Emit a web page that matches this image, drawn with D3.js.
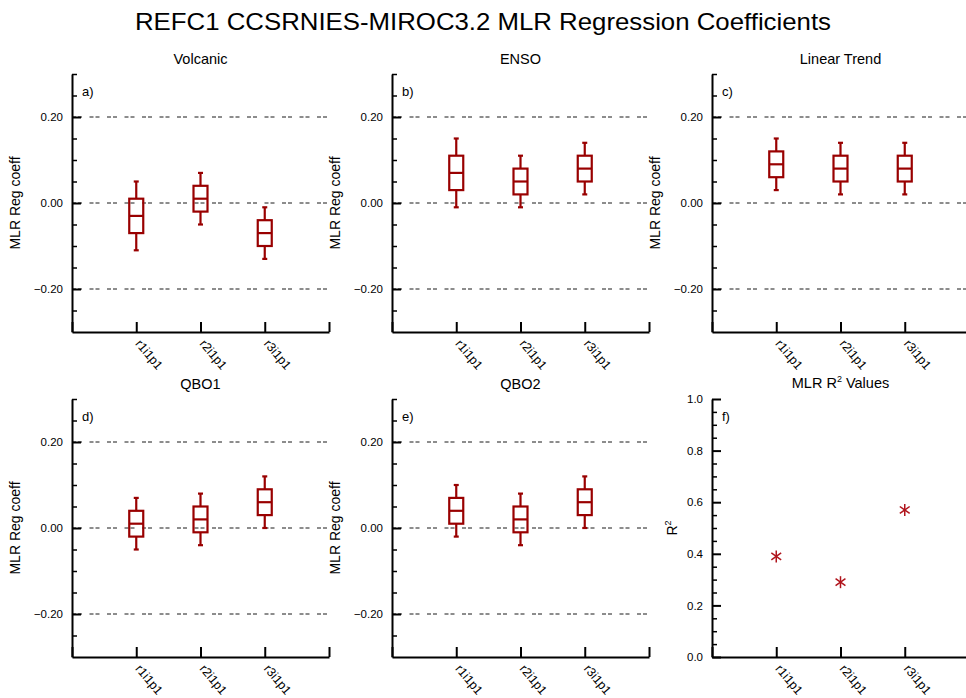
<!DOCTYPE html>
<html>
<head>
<meta charset="utf-8">
<script src="https://cdn.jsdelivr.net/npm/d3@7"></script>
<style>
  html, body { margin: 0; padding: 0; background: #fff; }
  svg { display: block; font-family: "Liberation Sans", Arial, Helvetica, sans-serif; }
</style>
</head>
<body>
<svg id="chart" width="966" height="698"></svg>
<script>
// Ensemble members on the x axis
const runs = ["r1i1p1", "r2i1p1", "r3i1p1"];

// Regression term of each box-plot panel
const panelTitles = ["Volcanic", "ENSO", "Linear Trend", "QBO1", "QBO2"];
const panelTags = ["a)", "b)", "c)", "d)", "e)", "f)"];

// Box statistics per run: [min, q1, median, q3, max]
const volcanic = [[-0.11, -0.07, -0.03, 0.01, 0.05], [-0.05, -0.02, 0.01, 0.04, 0.07], [-0.13, -0.10, -0.07, -0.04, -0.01]];
const enso     = [[-0.01, 0.03, 0.07, 0.11, 0.15], [-0.01, 0.02, 0.05, 0.08, 0.11], [0.02, 0.05, 0.08, 0.11, 0.14]];
const trend    = [[0.03, 0.06, 0.09, 0.12, 0.15], [0.02, 0.05, 0.08, 0.11, 0.14], [0.02, 0.05, 0.08, 0.11, 0.14]];
const qbo1     = [[-0.05, -0.02, 0.01, 0.04, 0.07], [-0.04, -0.01, 0.02, 0.05, 0.08], [0.00, 0.03, 0.06, 0.09, 0.12]];
const qbo2     = [[-0.02, 0.01, 0.04, 0.07, 0.10], [-0.04, -0.01, 0.02, 0.05, 0.08], [0.00, 0.03, 0.06, 0.09, 0.12]];

// Coefficient of determination per run
const rSquared = [0.39, 0.29, 0.57];

// Axis ticks
const coefMajor = [-0.2, 0.0, 0.2];
const coefMinor = [-0.25, -0.15, -0.1, -0.05, 0.05, 0.1, 0.15, 0.25, 0.3];
const r2Major = [0.0, 0.2, 0.4, 0.6, 0.8, 1.0];
const r2Minor = [0.05, 0.1, 0.15, 0.25, 0.3, 0.35, 0.45, 0.5, 0.55, 0.65, 0.7, 0.75, 0.85, 0.9, 0.95];
const refLines = [-0.2, 0.0, 0.2];

const boxData = [volcanic, enso, trend, qbo1, qbo2];

const BOX_COLOR = "#990000";
const MARK_COLOR = "#b0141c";
const W = 257, H = 258;
const lefts = [72, 392, 712];
const tops = [74, 399];

const svg = d3.select("#chart");

// Main title
const title = svg.append("text")
  .attr("x", 483).attr("y", 30)
  .attr("text-anchor", "middle")
  .attr("font-size", 24.5)
  .text("REFC1 CCSRNIES-MIROC3.2 MLR Regression Coefficients");
title.attr("textLength", 696).attr("lengthAdjust", "spacingAndGlyphs");

function drawAxes(g, x, y, major, minor, fmt) {
  // minor y ticks
  g.append("g")
    .call(d3.axisLeft(y).tickValues(minor).tickSize(-5).tickFormat(""))
    .call(s => s.select(".domain").remove())
    .call(s => s.selectAll("line").attr("stroke", "#000").attr("stroke-width", 1.5));
  // major y ticks with labels
  g.append("g")
    .call(d3.axisLeft(y).tickValues(major).tickSize(-9).tickSizeOuter(0).tickPadding(9).tickFormat(fmt))
    .call(s => s.select(".domain").attr("stroke", "#000").attr("stroke-width", 2))
    .call(s => s.selectAll("line").attr("stroke", "#000").attr("stroke-width", 2))
    .call(s => s.selectAll("text").attr("font-size", 11.5).attr("fill", "#000")
      .attr("font-family", "'Liberation Sans', Arial, sans-serif"));
  // x axis
  const xa = g.append("g")
    .attr("transform", `translate(0,${H})`)
    .call(d3.axisBottom(x).tickValues([0, 1, 2, 3, 4]).tickSize(-10).tickSizeOuter(0)
      .tickFormat(d => runs[d - 1] || ""))
    .call(s => s.select(".domain").attr("stroke", "#000").attr("stroke-width", 2))
    .call(s => s.selectAll("line").attr("stroke", "#000").attr("stroke-width", 2));
  xa.selectAll("text")
    .attr("font-size", 12.5).attr("fill", "#000")
    .attr("font-family", "'Liberation Sans', Arial, sans-serif")
    .attr("text-anchor", "start")
    .attr("y", 0).attr("dy", 0)
    .attr("transform", "translate(-2,12) rotate(50)");
}

function makePanel(row, col) {
  const g = svg.append("g").attr("transform", `translate(${lefts[col]},${tops[row]})`);
  const x = d3.scaleLinear().domain([0, 4]).range([0, W]);
  return { g, x };
}

// Box-plot panels
boxData.forEach((stats, i) => {
  const row = Math.floor(i / 3), col = i % 3;
  const { g, x } = makePanel(row, col);
  const y = d3.scaleLinear().domain([-0.3, 0.3]).range([H, 0]);

  // dashed reference lines
  g.selectAll("line.ref").data(refLines).join("line")
    .attr("class", "ref")
    .attr("x1", 0).attr("x2", W)
    .attr("y1", d => y(d)).attr("y2", d => y(d))
    .attr("stroke", "#1a1a1a").attr("stroke-width", 1)
    .attr("stroke-dasharray", "4,2,4,7.5");

  drawAxes(g, x, y, coefMajor, coefMinor, d3.format(".2f"));

  // y axis title
  g.append("text")
    .attr("transform", `translate(-52,${H / 2}) rotate(-90)`)
    .attr("text-anchor", "middle")
    .attr("font-size", 14)
    .text("MLR Reg coeff");

  // panel title and tag
  g.append("text").attr("x", W / 2).attr("y", -10).attr("text-anchor", "middle")
    .attr("font-size", 14.5).text(panelTitles[i]);
  g.append("text").attr("x", 10).attr("y", 22).attr("font-size", 13).text(panelTags[i]);

  const bw = 7, cw = 2.5;
  const boxes = g.selectAll("g.box").data(stats).join("g").attr("class", "box")
    .attr("fill", "none").attr("stroke", BOX_COLOR).attr("stroke-width", 2.2);
  boxes.each(function (s, k) {
    const b = d3.select(this);
    const cx = x(k + 1);
    const [mn, q1, md, q3, mx] = s;
    b.append("line").attr("x1", cx).attr("x2", cx).attr("y1", y(mx)).attr("y2", y(q3));
    b.append("line").attr("x1", cx).attr("x2", cx).attr("y1", y(q1)).attr("y2", y(mn));
    b.append("line").attr("x1", cx - cw).attr("x2", cx + cw).attr("y1", y(mx)).attr("y2", y(mx));
    b.append("line").attr("x1", cx - cw).attr("x2", cx + cw).attr("y1", y(mn)).attr("y2", y(mn));
    b.append("rect").attr("x", cx - bw).attr("width", 2 * bw)
      .attr("y", y(q3)).attr("height", y(q1) - y(q3));
    b.append("line").attr("x1", cx - bw).attr("x2", cx + bw).attr("y1", y(md)).attr("y2", y(md));
  });
});

// R-squared panel
{
  const { g, x } = makePanel(1, 2);
  const y = d3.scaleLinear().domain([0, 1]).range([H, 0]);
  drawAxes(g, x, y, r2Major, r2Minor, d3.format(".1f"));

  const yl = g.append("text")
    .attr("transform", `translate(-35,${H / 2}) rotate(-90)`)
    .attr("text-anchor", "middle")
    .attr("font-size", 14);
  yl.append("tspan").text("R");
  yl.append("tspan").attr("font-size", 9).attr("dy", -6).text("2");

  const t = g.append("text").attr("x", W / 2).attr("y", -11).attr("text-anchor", "middle")
    .attr("font-size", 14.5);
  t.append("tspan").text("MLR R");
  t.append("tspan").attr("font-size", 9).attr("dy", -6).text("2");
  t.append("tspan").attr("dy", 6).text(" Values");

  g.append("text").attr("x", 10).attr("y", 22).attr("font-size", 13).text(panelTags[5]);

  // asterisk marker: one vertical stroke and two slanted strokes
  const r = 6;
  const star = [90, 35, -35].map(a => {
    const rad = a * Math.PI / 180;
    return [r * Math.cos(rad), r * Math.sin(rad)];
  });
  g.selectAll("g.mark").data(rSquared).join("g").attr("class", "mark")
    .attr("transform", (d, k) => `translate(${x(k + 1)},${y(d)})`)
    .each(function () {
      d3.select(this).selectAll("line").data(star).join("line")
        .attr("x1", d => -d[0]).attr("y1", d => -d[1])
        .attr("x2", d => d[0]).attr("y2", d => d[1])
        .attr("stroke", MARK_COLOR).attr("stroke-width", 1.5);
    });
}
</script>
</body>
</html>
